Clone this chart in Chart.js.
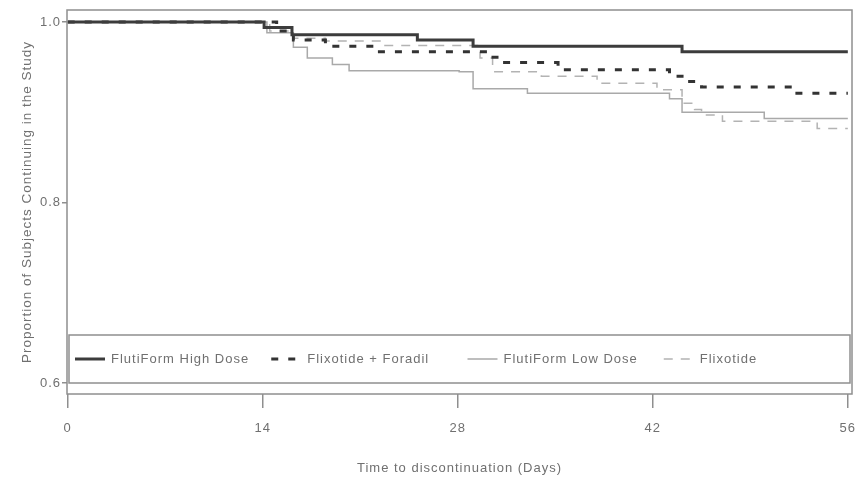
<!DOCTYPE html>
<html>
<head>
<meta charset="utf-8">
<script src="https://cdn.jsdelivr.net/npm/chart.js@4.4.1/dist/chart.umd.min.js"></script>
<style>
  html, body { margin: 0; padding: 0; background: #ffffff; }
  #wrap { width: 858px; height: 481px; }
</style>
</head>
<body>
<div id="wrap"><canvas id="km" width="858" height="481"></canvas></div>
<script>
// Kaplan-Meier estimates: day of each step and the proportion continuing after it
const highDoseDays = [0, 14.1, 16.1, 25.1, 29.1, 44.1, 56];
const highDoseProp = [1.000, 0.994, 0.986, 0.980, 0.973, 0.967, 0.967];

const fixForDays = [0, 15.0, 16.2, 18.5, 22.0, 30.3, 31.2, 35.2, 43.2, 44.1, 45.5, 52.0, 56];
const fixForProp = [1.000, 0.990, 0.980, 0.973, 0.967, 0.961, 0.955, 0.947, 0.940, 0.934, 0.928, 0.921, 0.921];

const lowDoseDays = [0, 14.3, 16.2, 17.2, 19.0, 20.2, 28.1, 29.1, 33.0, 43.2, 44.1, 50.0, 56];
const lowDoseProp = [1.000, 0.988, 0.972, 0.960, 0.953, 0.946, 0.945, 0.926, 0.921, 0.915, 0.900, 0.893, 0.893];

const fixDays = [0, 14.5, 16.2, 18.5, 22.6, 29.6, 30.5, 34.0, 38.0, 42.3, 44.1, 45.0, 45.5, 47.0, 53.8, 56];
const fixProp = [1.000, 0.990, 0.982, 0.979, 0.974, 0.960, 0.945, 0.940, 0.932, 0.925, 0.910, 0.903, 0.897, 0.890, 0.882, 0.882];

const seriesNames = ['FlutiForm High Dose', 'Flixotide + Foradil', 'FlutiForm Low Dose', 'Flixotide'];
const xTickValues = [0, 14, 28, 42, 56];
const yTickValues = [0.6, 0.8, 1.0];

const xTitle = 'Time to discontinuation (Days)';
const yTitle = 'Proportion of Subjects Continuing in the Study';

const toPoints = (days, prop) => days.map((d, i) => ({ x: d, y: prop[i] }));

const FONT = '"Liberation Sans", Arial, sans-serif';
const TEXT = '#707070';
const FRAME = '#8f8f8f';

// Slightly open letter spacing for every label on the canvas
const spacingPlugin = {
  id: 'spacing',
  beforeDraw(chart) { chart.ctx.letterSpacing = '1px'; }
};

// Frame around the plot area
const framePlugin = {
  id: 'frame',
  afterDatasetsDraw(chart) {
    const a = chart.chartArea;
    const ctx = chart.ctx;
    ctx.save();
    ctx.strokeStyle = FRAME;
    ctx.lineWidth = 1.5;
    ctx.strokeRect(a.left, a.top, a.right - a.left, a.bottom - a.top);
    ctx.restore();
  }
};

// Boxed legend laid out in four equal columns inside the bottom of the plot
const boxLegendPlugin = {
  id: 'boxLegend',
  afterDatasetsDraw(chart) {
    const a = chart.chartArea;
    const ctx = chart.ctx;
    const top = a.bottom - 59, bottom = a.bottom - 11;
    const left = a.left + 2, right = a.right - 2;
    ctx.save();
    ctx.fillStyle = '#ffffff';
    ctx.fillRect(left, top, right - left, bottom - top);
    ctx.strokeStyle = FRAME;
    ctx.lineWidth = 1.5;
    ctx.strokeRect(left, top, right - left, bottom - top);
    const midY = (top + bottom) / 2;
    const colW = (a.right - a.left) / 4;
    chart.data.datasets.forEach((ds, i) => {
      const x0 = a.left + 8 + i * colW;
      ctx.strokeStyle = ds.borderColor;
      ctx.lineWidth = ds.borderWidth;
      ctx.setLineDash(ds.borderDash || []);
      ctx.beginPath();
      ctx.moveTo(x0, midY);
      ctx.lineTo(x0 + 30, midY);
      ctx.stroke();
      ctx.setLineDash([]);
      ctx.fillStyle = TEXT;
      ctx.font = '13px ' + FONT;
      ctx.letterSpacing = '1px';
      ctx.textBaseline = 'middle';
      ctx.textAlign = 'left';
      ctx.fillText(ds.label, x0 + 36, midY);
    });
    ctx.restore();
  }
};

new Chart(document.getElementById('km'), {
  type: 'line',
  data: {
    datasets: [
      {
        label: seriesNames[0],
        data: toPoints(highDoseDays, highDoseProp),
        borderColor: '#3c3c3c',
        borderWidth: 3,
        stepped: true
      },
      {
        label: seriesNames[1],
        data: toPoints(fixForDays, fixForProp),
        borderColor: '#333333',
        borderWidth: 3,
        borderDash: [7, 10],
        stepped: true
      },
      {
        label: seriesNames[2],
        data: toPoints(lowDoseDays, lowDoseProp),
        borderColor: '#a9a9a9',
        borderWidth: 1.5,
        stepped: true
      },
      {
        label: seriesNames[3],
        data: toPoints(fixDays, fixProp),
        borderColor: '#b3b3b3',
        borderWidth: 1.5,
        borderDash: [9, 8],
        stepped: true
      }
    ]
  },
  options: {
    responsive: false,
    animation: false,
    elements: { point: { radius: 0 } },
    layout: { padding: { top: 10, right: 6, left: 0, bottom: 0 } },
    plugins: {
      legend: { display: false },
      tooltip: { enabled: false }
    },
    scales: {
      x: {
        type: 'linear',
        min: -0.05,
        max: 56.3,
        afterBuildTicks(scale) { scale.ticks = xTickValues.map(v => ({ value: v })); },
        afterFit(scale) { scale.height = 87; scale.paddingLeft = 0; scale.paddingRight = 0; },
        border: { display: false },
        grid: { drawOnChartArea: false, drawTicks: true, tickLength: 14, color: FRAME, lineWidth: 1.5 },
        ticks: { color: TEXT, font: { family: FONT, size: 13 }, padding: 13, maxRotation: 0 },
        title: { display: true, text: xTitle, color: TEXT, font: { family: FONT, size: 13 }, padding: { top: 0, bottom: 5 } }
      },
      y: {
        type: 'linear',
        min: 0.5878,
        max: 1.0133,
        afterBuildTicks(scale) { scale.ticks = yTickValues.map(v => ({ value: v })); },
        afterFit(scale) { scale.width = 67; scale.paddingTop = 0; scale.paddingBottom = 0; },
        border: { display: false },
        grid: { drawOnChartArea: false, drawTicks: true, tickLength: 5, color: FRAME, lineWidth: 1.5 },
        ticks: { color: TEXT, font: { family: FONT, size: 13 }, padding: 1, callback: v => v.toFixed(1) },
        title: { display: true, text: yTitle, color: TEXT, font: { family: FONT, size: 13.5 }, padding: { top: 19, bottom: 0 } }
      }
    }
  },
  plugins: [spacingPlugin, framePlugin, boxLegendPlugin]
});
</script>
</body>
</html>
